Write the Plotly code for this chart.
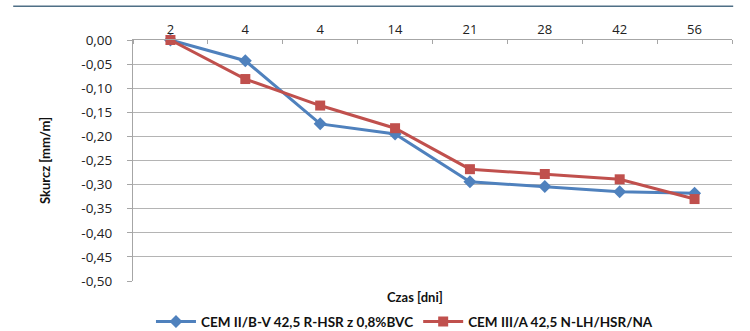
import plotly.graph_objects as go

# Shrinkage measurements over curing time
days = ["2", "4", "4", "14", "21", "28", "42", "56"]
cem_ii = [0.000, -0.043, -0.174, -0.195, -0.294, -0.304, -0.315, -0.318]
cem_iii = [0.000, -0.081, -0.136, -0.183, -0.268, -0.278, -0.289, -0.330]
y_ticks = [0.0, -0.05, -0.10, -0.15, -0.20, -0.25, -0.30, -0.35, -0.40, -0.45, -0.50]
y_tick_text = ["0,00", "-0,05", "-0,10", "-0,15", "-0,20", "-0,25",
               "-0,30", "-0,35", "-0,40", "-0,45", "-0,50"]

name_ii = "CEM II/B-V 42,5 R-HSR z 0,8%BVC"
name_iii = "CEM III/A 42,5 N-LH/HSR/NA"

pos = list(range(len(days)))
font = "Lato, 'Open Sans', sans-serif"
tick_font = "'Open Sans', sans-serif"

fig = go.Figure()
fig.add_trace(go.Scatter(
    x=pos, y=cem_ii, name=name_ii, mode="lines+markers",
    line=dict(color="#4F81BD", width=3),
    marker=dict(symbol="diamond", size=10, color="#4F81BD"),
    cliponaxis=False,
))
fig.add_trace(go.Scatter(
    x=pos, y=cem_iii, name=name_iii, mode="lines+markers",
    line=dict(color="#C0504D", width=3),
    marker=dict(symbol="square", size=10, color="#C0504D"),
    cliponaxis=False,
))

fig.update_layout(
    width=750, height=331,
    margin=dict(l=133, r=18, t=40, b=50, autoexpand=False),
    paper_bgcolor="white", plot_bgcolor="white",
    font=dict(family=font, size=13, color="#222222"),
    showlegend=True,
    legend=dict(orientation="h", x=0.03, xanchor="left",
                yref="container", y=0.028, yanchor="middle",
                font=dict(family=font, size=13.5, color="#111111", weight="bold"),
                itemwidth=40, tracegroupgap=0),
    xaxis=dict(
        side="top", range=[-0.5, len(days) - 0.5],
        tickvals=pos, ticktext=days, ticks="",
        showgrid=False, zeroline=False,
        showline=True, linecolor="#a6a6a6", linewidth=1,
        tickfont=dict(family=tick_font, size=13, color="#222222"),
        minor=dict(tick0=-0.5, dtick=1, ticks="inside", ticklen=4,
                   tickcolor="#a6a6a6", showgrid=False),
    ),
    yaxis=dict(
        range=[-0.5, 0], tickvals=y_ticks, ticktext=y_tick_text,
        ticks="outside", ticklen=5, tickcolor="#a6a6a6",
        ticklabelstandoff=12,
        showgrid=True, gridcolor="#b4b4b4", gridwidth=1,
        zeroline=False, showline=True, linecolor="#a6a6a6", linewidth=1,
        tickfont=dict(family=tick_font, size=13.5, color="#222222"),
        title=dict(text="<b>Skurcz [mm/m]</b>",
                   font=dict(family=font, size=13, color="#111111"),
                   standoff=27),
    ),
    annotations=[dict(
        text="<b>Czas [dni]</b>", xref="paper", yref="paper",
        x=0.47, y=-0.025, xanchor="center", yanchor="top", showarrow=False,
        font=dict(family=font, size=13, color="#111111"),
    )],
    shapes=[dict(
        type="line", xref="paper", yref="paper",
        x0=-0.2, x1=1.002, y0=1.14, y1=1.14,
        line=dict(color="#4f6f86", width=1.5),
    )],
)

fig.write_html("out.html")
